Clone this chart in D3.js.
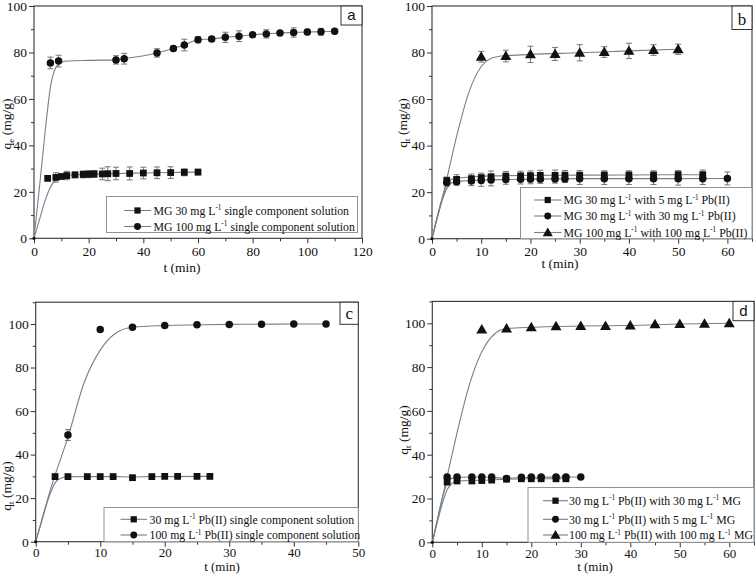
<!DOCTYPE html>
<html><head><meta charset="utf-8">
<script src="https://cdn.jsdelivr.net/npm/d3@7"></script>
<style>body{margin:0;background:#fff}svg{display:block}</style>
</head><body>
<svg id="chart" width="756" height="574"></svg>
<script>
// ---------------- DATA ----------------
// Panel a
const aT30 = [5,8,10,12,15,18,20,22,25,27,30,35,40,45,50,55,60];
const aQ30 = [25.8,26.2,26.6,27.0,27.3,27.5,27.6,27.7,27.7,27.8,27.9,27.9,28.1,28.2,28.3,28.4,28.5];
const aE30 = [0,2.0,0.5,1.8,1.2,1.5,1.5,1.5,2.5,3.0,2.7,2.8,2.5,2.5,2.5,1.5,1.2];
const aT100 = [6,9,30,33,45,51,55,60,65,70,75,80,85,90,95,100,105,110];
const aQ100 = [75.5,76.3,76.8,77.3,79.8,81.7,83.2,85.5,85.8,86.5,87.0,87.6,88.0,88.4,88.6,88.8,88.9,89.1];
const aE100 = [2.5,2.5,1.8,2.3,1.8,1.0,2.5,1.3,1.0,2.2,2.3,1.0,1.8,1.0,2.0,1.2,1.5,1.0];
const aFit30T = [0,2,4,6,8,10,12,15,20,30,40,50,60];
const aFit30Q = [0,8,16,22,25.3,26.4,27,27.3,27.6,27.9,28.1,28.3,28.5];
const aFit100T = [0,2,4,6,8,10,12,20,30,33,45,51,55,60,65,70,75,80,85,90,95,100,105,110];
const aFit100Q = [0,22,45,65,73.5,75.8,76.3,76.6,76.8,77.3,79.8,81.7,83.2,85.5,85.8,86.5,87,87.6,88,88.4,88.6,88.8,88.9,89.1];
const aLabels = ["MG 30 mg L^-1 single component solution", "MG 100 mg L^-1 single component solution"];
const aXTicks = [0,20,40,60,80,100,120];
const aYTicks = [0,20,40,60,80,100];

// Panel b
const bT5 = [3,5,8,10,12,15,18,20,22,25,27,30,35,40,45,50,55];
const bQ5 = [25.0,25.5,25.8,26.2,26.6,26.9,27.0,27.1,27.2,27.2,27.3,27.3,27.4,27.4,27.4,27.5,27.5];
const bE5 = [1.5,2.0,2.0,2.0,2.5,2.0,2.0,2.0,2.2,2.3,2.0,2.0,1.8,1.8,1.8,1.8,2.0];
const bT30 = [3,5,8,10,12,15,18,20,22,25,27,30,35,40,45,50,55,60];
const bQ30 = [24.2,24.5,24.8,25.0,25.2,25.4,25.5,25.6,25.6,25.7,25.7,25.8,25.8,25.8,25.8,25.8,25.8,25.9];
const bE30 = [1.5,1.5,2.0,2.5,2.5,2.0,2.0,2.0,1.8,1.8,1.5,2.5,2.5,2.5,2.5,2.8,2.5,2.8];
const bT100 = [10,15,20,25,30,35,40,45,50];
const bQ100 = [78.2,78.5,79.2,79.4,79.9,80.2,80.7,81.1,81.4];
const bE100 = [2.3,2.5,3.5,2.8,3.5,2.3,3.3,2.3,2.2];
const bFit5T = [0,1,2,3,4,5,8,12,20,30,40,55];
const bFit5Q = [0,9,17,23,25.5,26,26.5,27,27.2,27.3,27.4,27.5];
const bFit30T = [0,1,2,3,4,5,8,12,20,30,40,60];
const bFit30Q = [0,8.5,16,21.5,24,24.6,25,25.3,25.6,25.8,25.8,25.9];
const bFit100T = [0,2.5,5,7.5,10,12,14,16,20,30,40,50];
const bFit100Q = [0,21,44,63,74,77.5,78.5,78.8,79.2,79.9,80.7,81.4];
const bLabels = ["MG 30 mg L^-1 with 5 mg L^-1 Pb(II)", "MG 30 mg L^-1 with 30 mg L^-1 Pb(II)", "MG 100 mg L^-1 with 100 mg L^-1 Pb(II)"];
const bXTicks = [0,10,20,30,40,50,60];
const bYTicks = [0,20,40,60,80,100];

// Panel c
const cT30 = [3,5,8,10,12,15,18,20,22,25,27];
const cQ30 = [29.9,29.9,29.9,29.9,29.9,29.4,29.9,30,30,30,30];
const cE30 = [0,0,0,0,0,0,0,0,0,0,0];
const cT100 = [5,10,15,20,25,30,35,40,45];
const cQ100 = [49,97.5,98.5,99.3,99.6,99.8,99.9,100,100];
const cE100 = [2.5,0.8,0.5,0,0,0,0,0,0];
const cFit30T = [0,1,2,3,4,5,8,12,15,18,27];
const cFit30Q = [0,10,20,27,29.3,29.8,29.9,29.9,29.7,29.9,30];
const cFit100T = [0,2.5,5,7.5,10,12.5,15,20,25,30,35,40,45];
const cFit100Q = [0,26,48,73,88,96,98.5,99.3,99.6,99.8,99.9,100,100];
const cLabels = ["30 mg L^-1 Pb(II) single component solution", "100 mg L^-1 Pb(II) single component solution"];
const cXTicks = [0,10,20,30,40,50];
const cYTicks = [0,20,40,60,80,100];

// Panel d
const dT30 = [3,5,8,10,12,15,18,20,22,25,27];
const dQ30 = [27.5,28.0,28.0,28.2,28.4,28.8,29.0,29.0,29.0,29.0,29.0];
const dT5 = [3,5,8,10,12,15,18,20,22,25,27,30];
const dQ5 = [29.8,29.8,29.8,29.8,29.8,29.1,29.7,29.8,29.8,29.8,29.8,29.8];
const dT100 = [10,15,20,25,30,35,40,45,50,55,60];
const dQ100 = [97.1,97.6,98.2,98.6,98.8,98.8,99.0,99.5,99.7,99.8,100];
const dFit30T = [0,1,2,3,4,5,10,15,20,27];
const dFit30Q = [0,9,17.5,24,27,28,28.3,28.8,29,29];
const dFit5T = [0,1,2,3,4,5,10,15,20,30];
const dFit5Q = [0,10,20,27,29.3,29.7,29.8,29.3,29.7,29.8];
const dFit100T = [0,2.5,5,7.5,10,12.5,15,20,30,40,50,60];
const dFit100Q = [0,25,50,72,87,95,97.6,98.2,98.8,99,99.7,100];
const dLabels = ["30 mg L^-1 Pb(II) with 30 mg L^-1 MG", "30 mg L^-1 Pb(II) with 5 mg L^-1 MG", "100 mg L^-1 Pb(II) with 100 mg L^-1 MG"];
const dXTicks = [0,10,20,30,40,50,60];
const dYTicks = [0,20,40,60,80,100];

// ---------------- DRAWING ----------------
const SERIF = "Liberation Serif, Times New Roman, serif";
const SANS = "Liberation Sans, Arial, sans-serif";
const FIT = "#74818d";
const AX = "#333";
const svg = d3.select("#chart");

function zip(t, q, e) { return t.map((v, i) => ({t: v, q: q[i], e: e ? e[i] : 0})); }

function richText(sel, str, fs) {
  const parts = str.split("^-1");
  const sh = fs * 0.38;
  parts.forEach((p, i) => {
    const ts = sel.append("tspan").text(p);
    if (i > 0) ts.attr("dy", sh);
    if (i < parts.length - 1) {
      sel.append("tspan").attr("font-size", fs * 0.62).attr("dy", -sh).text("-1");
    }
  });
}

const shapes = {square: d3.symbolSquare, circle: d3.symbolCircle, triangle: d3.symbolTriangle};
const sizes = {square: 46, circle: 44, triangle: 52};

function panel(c) {
  const g = svg.append("g");
  const x = d3.scaleLinear().domain([0, c.xmax]).range([c.L, c.R]);
  const y = d3.scaleLinear().domain([0, c.ymax]).range([c.B, c.T]);

  const xMinor = d3.range(0, c.xmax + 0.001, c.xMinorStep).filter(v => !c.xTicks.includes(v));
  const yMinor = d3.range(0, c.ymax + 0.001, c.yMinorStep).filter(v => !c.yTicks.includes(v));
  const xa = g.append("g").attr("transform", `translate(0,${c.B})`)
    .call(d3.axisBottom(x).tickValues(c.xTicks).tickSize(5).tickPadding(c.xpad).tickFormat(d3.format("d")));
  g.append("g").attr("transform", `translate(0,${c.B})`)
    .call(d3.axisBottom(x).tickValues(xMinor).tickSize(3).tickFormat(""));
  g.append("g").attr("transform", `translate(${c.L},0)`)
    .call(d3.axisLeft(y).tickValues(c.yTicks).tickSize(5).tickPadding(2).tickFormat(d3.format("d")));
  g.append("g").attr("transform", `translate(${c.L},0)`)
    .call(d3.axisLeft(y).tickValues(yMinor).tickSize(3).tickFormat(""));
  g.selectAll(".domain").remove();
  g.selectAll(".tick line").attr("stroke", AX);
  g.selectAll(".tick text").attr("font-family", SERIF).attr("font-size", 13.5).attr("fill", "#111");
  xa.selectAll(".tick text").attr("font-size", c.xfs);

  g.append("rect").attr("x", c.L).attr("y", c.T).attr("width", c.R - c.L).attr("height", c.B - c.T)
    .attr("fill", "none").attr("stroke", AX).attr("stroke-width", 1.1);

  const line = d3.line().x(d => x(d.t)).y(d => y(d.q)).curve(d3.curveMonotoneX);
  c.series.forEach(s => {
    g.append("path").datum(zip(s.fitT, s.fitQ)).attr("d", line)
      .attr("fill", "none").attr("stroke", FIT).attr("stroke-width", 1.1);
  });
  c.series.forEach(s => {
    const pts = zip(s.t, s.q, s.e).filter(d => d.e > 0);
    const eg = g.append("g").attr("stroke", "#666").attr("stroke-width", 0.9);
    pts.forEach(d => {
      eg.append("line").attr("x1", x(d.t)).attr("x2", x(d.t)).attr("y1", y(d.q - d.e)).attr("y2", y(d.q + d.e));
      [d.q - d.e, d.q + d.e].forEach(v => eg.append("line").attr("x1", x(d.t) - 3).attr("x2", x(d.t) + 3).attr("y1", y(v)).attr("y2", y(v)));
    });
  });
  c.series.forEach(s => {
    const sym = d3.symbol().type(shapes[s.shape]).size(sizes[s.shape]);
    g.append("g").selectAll("path").data(zip(s.t, s.q)).join("path")
      .attr("transform", d => `translate(${x(d.t)},${y(d.q) + (s.shape === "triangle" ? 0.8 : 0)})`)
      .attr("d", sym).attr("fill", "#111");
  });
  g.append("circle").attr("cx", x(0)).attr("cy", y(0)).attr("r", 1.6).attr("fill", "#111");

  const lg = c.legend;
  g.append("rect").attr("x", lg.x0).attr("y", lg.y0).attr("width", lg.x1 - lg.x0).attr("height", lg.y1 - lg.y0)
    .attr("fill", "#fff").attr("stroke", "#8a949c").attr("stroke-width", 1);
  c.series.forEach((s, i) => {
    const yy = lg.rows[i];
    g.append("line").attr("x1", lg.lx0).attr("x2", lg.lx1).attr("y1", yy).attr("y2", yy)
      .attr("stroke", FIT).attr("stroke-width", 1.1);
    g.append("path").attr("transform", `translate(${(lg.lx0 + lg.lx1) / 2},${yy + (s.shape === "triangle" ? 0.8 : 0)})`)
      .attr("d", d3.symbol().type(shapes[s.shape]).size(sizes[s.shape] * 0.85)).attr("fill", "#111");
    const t = g.append("text").attr("x", lg.tx).attr("y", yy + 4.2)
      .attr("font-family", SERIF).attr("font-size", lg.fs).attr("fill", "#111");
    richText(t, c.labels[i], lg.fs);
  });

  const b = c.box;
  g.append("rect").attr("x", b.x0).attr("y", b.y0).attr("width", b.x1 - b.x0).attr("height", b.y1 - b.y0)
    .attr("fill", "#fff").attr("stroke", AX).attr("stroke-width", 1);
  g.append("text").attr("x", (b.x0 + b.x1) / 2).attr("y", b.y1 - 5).attr("text-anchor", "middle")
    .attr("font-family", b.serif ? SERIF : SANS).attr("font-size", b.fs).attr("fill", "#111").text(c.letter);

  g.append("text").attr("x", c.xlab[0]).attr("y", c.xlab[1]).attr("text-anchor", "middle")
    .attr("font-family", SERIF).attr("font-size", c.xlfs).attr("fill", "#111").text("t (min)");
  const yt = g.append("text").attr("transform", `translate(${c.ylab[0]},${c.ylab[1]}) rotate(-90)`)
    .attr("text-anchor", "middle").attr("font-family", SERIF).attr("font-size", 13.5).attr("fill", "#111");
  yt.append("tspan").text("q");
  yt.append("tspan").attr("font-size", 9).attr("dy", 3).text(c.sub);
  yt.append("tspan").attr("dy", -3).text(" (mg/g)");
}

panel({
  L: 34, R: 362, T: 6, B: 238.3, xmax: 120, ymax: 100, xTicks: aXTicks, yTicks: aYTicks, xMinorStep: 10, yMinorStep: 10,
  labels: aLabels, letter: "a", sub: "e", xpad: 3, xfs: 13.5, xlfs: 13.5,
  series: [
    {t: aT30, q: aQ30, e: aE30, fitT: aFit30T, fitQ: aFit30Q, shape: "square"},
    {t: aT100, q: aQ100, e: aE100, fitT: aFit100T, fitQ: aFit100Q, shape: "circle"}
  ],
  legend: {x0: 106.5, y0: 196.5, x1: 357.5, y1: 232.5, rows: [210.5, 226.5], lx0: 124, lx1: 151, tx: 153.5, fs: 11.8},
  box: {x0: 341, y0: 6, x1: 362, y1: 25, fs: 15, serif: false},
  xlab: [182, 272], ylab: [11, 124]
});
panel({
  L: 432, R: 752, T: 6, B: 238.7, xmax: 65, ymax: 100, xTicks: bXTicks, yTicks: bYTicks, xMinorStep: 5, yMinorStep: 10,
  labels: bLabels, letter: "b", sub: "t", xpad: 3, xfs: 13.5, xlfs: 13.5,
  series: [
    {t: bT5, q: bQ5, e: bE5, fitT: bFit5T, fitQ: bFit5Q, shape: "square"},
    {t: bT30, q: bQ30, e: bE30, fitT: bFit30T, fitQ: bFit30Q, shape: "circle"},
    {t: bT100, q: bQ100, e: bE100, fitT: bFit100T, fitQ: bFit100Q, shape: "triangle"}
  ],
  legend: {x0: 520.5, y0: 187.5, x1: 752, y1: 238.7, rows: [200, 216, 232.5], lx0: 534, lx1: 561.5, tx: 563.5, fs: 11.8},
  box: {x0: 732, y0: 6, x1: 752, y1: 29.5, fs: 17, serif: true},
  xlab: [560, 268], ylab: [407, 123]
});
panel({
  L: 35.7, R: 358.3, T: 302.2, B: 541.7, xmax: 50, ymax: 110, xTicks: cXTicks, yTicks: cYTicks, xMinorStep: 5, yMinorStep: 10,
  labels: cLabels, letter: "c", sub: "t", xpad: 1, xfs: 13, xlfs: 13,
  series: [
    {t: cT30, q: cQ30, e: cE30, fitT: cFit30T, fitQ: cFit30Q, shape: "square"},
    {t: cT100, q: cQ100, e: cE100, fitT: cFit100T, fitQ: cFit100Q, shape: "circle"}
  ],
  legend: {x0: 104, y0: 507.5, x1: 358.3, y1: 541.7, rows: [519.3, 535], lx0: 120.5, lx1: 147, tx: 149.5, fs: 11.8},
  box: {x0: 340, y0: 302.2, x1: 358.3, y1: 324.3, fs: 17, serif: true},
  xlab: [222, 571], ylab: [11, 486]
});
panel({
  L: 432.3, R: 754, T: 301.4, B: 542.3, xmax: 65, ymax: 110, xTicks: dXTicks, yTicks: dYTicks, xMinorStep: 5, yMinorStep: 10,
  labels: dLabels, letter: "d", sub: "t", xpad: 1, xfs: 13, xlfs: 13,
  series: [
    {t: dT30, q: dQ30, e: null, fitT: dFit30T, fitQ: dFit30Q, shape: "square"},
    {t: dT5, q: dQ5, e: null, fitT: dFit5T, fitQ: dFit5Q, shape: "circle"},
    {t: dT100, q: dQ100, e: null, fitT: dFit100T, fitQ: dFit100Q, shape: "triangle"}
  ],
  legend: {x0: 528, y0: 487.5, x1: 754, y1: 542.3, rows: [500.7, 519.3, 535], lx0: 543, lx1: 568, tx: 569, fs: 11.8},
  box: {x0: 733, y0: 301.4, x1: 754, y1: 320.7, fs: 15, serif: false},
  xlab: [595, 571], ylab: [408, 430]
});
</script>
</body></html>
